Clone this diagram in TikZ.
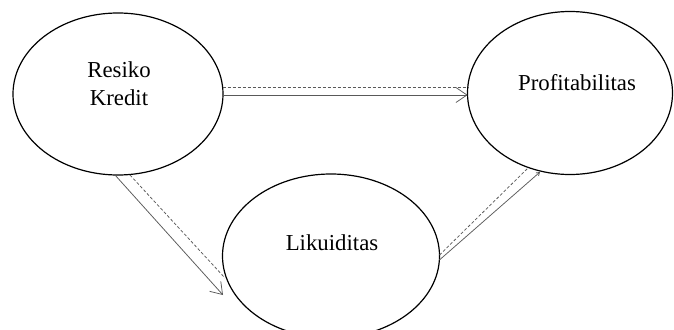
\documentclass[tikz,border=0pt]{standalone}
\usepackage{fontspec}
\setmainfont{Liberation Serif}
\usetikzlibrary{shapes.geometric,arrows.meta,calc}
\begin{document}
\begin{tikzpicture}[x=1pt,y=-1pt,
  bubble/.style={draw=black, line width=1.2pt, ellipse, inner sep=0pt},
  lbl/.style={inner sep=0pt, font=\fontsize{22.8}{28}\selectfont, align=center},
  conn/.style={draw=black!65, line width=0.75pt},
  dconn/.style={conn, dash pattern=on 3pt off 2pt},
  bigtip/.style={-{Straight Barb[length=11pt,width=15pt]}},
  smalltip/.style={-{Straight Barb[length=3pt,width=4pt]}}]
\clip (0,0) rectangle (674,329);
\useasboundingbox (0,0) rectangle (674,329);
\node[bubble, minimum width=210pt, minimum height=162pt] (rk) at (118,94) {};
\node[bubble, minimum width=205pt, minimum height=163pt] (pf) at (570,93) {};
\node[bubble, minimum width=217pt, minimum height=164pt] (lk) at (331,256) {};
\node[lbl, anchor=north] (rkt) at (119,61.6) {Resiko\\Kredit};
\node[lbl, anchor=base] (pft) at (577,90) {Profitabilitas};
\node[lbl, anchor=base] (lkt) at (332,250) {Likuiditas};
% connector end points on the ellipse borders
\coordinate (rkA) at ($(rk.center)+(104.6,-7)$);
\coordinate (rkB) at ($(rk.center)+(105,1)$);
\coordinate (rkC) at ($(rk.center)+(12,81)$);
\coordinate (rkD) at ($(rk.center)+(-3,81)$);
\coordinate (pfA) at ($(pf.center)+(-102.2,-6)$);
\coordinate (pfB) at ($(pf.center)+(-102.4,2)$);
\coordinate (pfC) at ($(pf.center)+(-42,75)$);
\coordinate (pfD) at ($(pf.center)+(-30,79)$);
\coordinate (lkA) at ($(lk.center)+(-106,22)$);
\coordinate (lkB) at ($(lk.center)+(-108,39)$);
\coordinate (lkC) at ($(lk.center)+(108.5,-1)$);
\coordinate (lkD) at ($(lk.center)+(108.4,4)$);
% Resiko Kredit -> Profitabilitas
\draw[dconn] (rkA) -- (pfA);
\draw[conn, bigtip] (rkB) -- (pfB);
% Resiko Kredit -> Likuiditas
\draw[dconn] (rkC) -- (lkA);
\draw[conn, bigtip] (rkD) -- (lkB);
% Likuiditas -> Profitabilitas
\draw[dconn] (lkC) -- (pfC);
\draw[conn, smalltip] (lkD) -- (pfD);
\end{tikzpicture}
\end{document}
